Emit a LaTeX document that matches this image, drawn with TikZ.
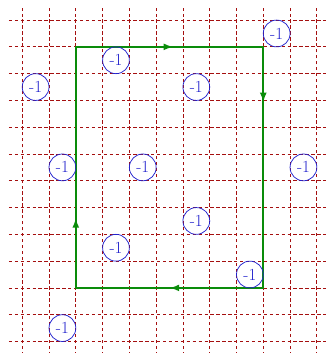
\documentclass[tikz,border=0pt]{standalone}
\usetikzlibrary{arrows.meta,decorations.markings}
\definecolor{gridred}{RGB}{165,15,15}
\definecolor{loopgrn}{RGB}{10,140,10}
\definecolor{chgblue}{RGB}{35,35,205}
\tikzset{
  grd/.style={draw=gridred,line width=.8pt,dash pattern=on 3.5pt off 2.8pt},
  lp/.style={draw=loopgrn,line width=2.1pt},
  chg/.style={circle,draw=chgblue,text=chgblue,line width=.8pt,
              minimum size=1cm,inner sep=0pt,font=\fontsize{18}{20}\selectfont},
  midarr/.style={postaction={decorate},decoration={markings,
       mark=at position #1 with {\arrow[loopgrn]{Latex[length=3.6mm,width=2.6mm]}}}},
}
\begin{document}
\begin{tikzpicture}
  \useasboundingbox (-0.83,-0.43) rectangle (11.37,12.75);
  % grid
  \foreach \y in {0,...,12}
     \draw[grd] (-0.5,\y) -- (11.5,\y);
  \foreach \x in {0,...,11}
     \draw[grd] (\x,-0.5) -- (\x,12.5);
  % loop
  \coordinate (tl) at (2,11);
  \coordinate (tr) at (9,11);
  \coordinate (br) at (9,2);
  \coordinate (bl) at (2,2);
  \draw[lp] (tl) -- (tr) -- (br) -- (bl) -- cycle;
  \draw[lp,midarr=.52] (tl) -- (tr);
  \draw[lp,midarr=.23] (tr) -- (br);
  \draw[lp,midarr=.50] (br) -- (bl);
  \draw[lp,midarr=.29] (bl) -- (tl);
  % charges
  \foreach \p [count=\i] in {(9.5,11.5),(3.5,10.5),(0.5,9.5),(6.5,9.5),
                             (1.5,6.5),(4.5,6.5),(10.5,6.5),(6.5,4.5),
                             (3.5,3.5),(8.5,2.5),(1.5,0.5)}
     \node[chg] (c\i) at \p {-1};
\end{tikzpicture}
\end{document}
